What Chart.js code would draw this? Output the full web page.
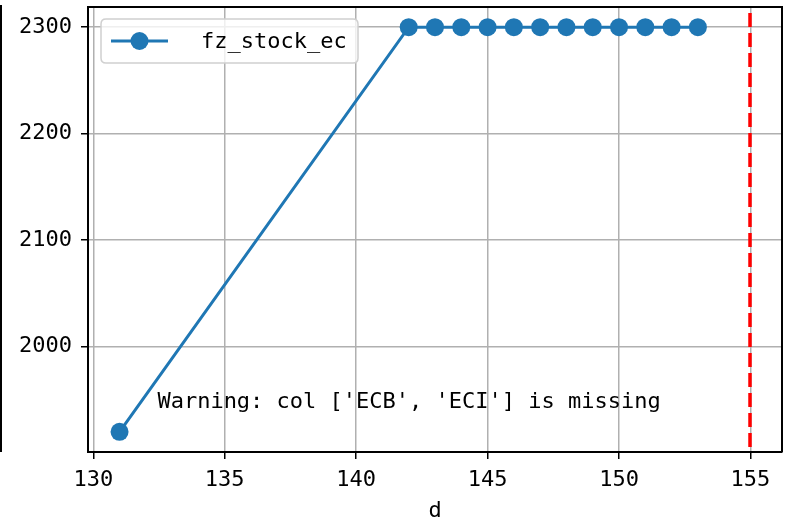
<!DOCTYPE html>
<html>
<head>
<meta charset="utf-8">
<script src="https://cdn.jsdelivr.net/npm/chart.js@4.4.1/dist/chart.umd.min.js"></script>
<style>
html,body{margin:0;padding:0;background:#fff;}
canvas{display:block;}
</style>
</head>
<body>
<canvas id="c" width="787" height="525"></canvas>
<script>
// ---- data ----
const dValues = [131, 142, 143, 144, 145, 146, 147, 148, 149, 150, 151, 152, 153];
const stockValues = [1920, 2300, 2300, 2300, 2300, 2300, 2300, 2300, 2300, 2300, 2300, 2300, 2300];
const seriesName = 'fz_stock_ec';
const xTicks = [130, 135, 140, 145, 150, 155];
const yTicks = [2000, 2100, 2200, 2300];
const vlineX = [155];
const xLabel = 'd';
const warningText = "Warning: col ['ECB', 'ECI'] is missing";

const FONT = '"DejaVu Sans Mono", "Liberation Mono", monospace';
const FS = 22;
const BLUE = '#1f77b4';

const points = dValues.map((d, i) => ({x: d, y: stockValues[i]}));

const overlay = {
  id: 'overlay',
  afterDatasetsDraw(chart) {
    const ctx = chart.ctx;
    const a = chart.chartArea;
    const xs = chart.scales.x;
    ctx.save();
    // red dashed vertical line
    ctx.strokeStyle = 'red';
    ctx.lineWidth = 3.5;
    ctx.setLineDash([14, 6]);
    ctx.lineDashOffset = -6;
    vlineX.forEach(v => {
      const px = Math.round(xs.getPixelForValue(v));
      ctx.beginPath();
      ctx.moveTo(px, a.top);
      ctx.lineTo(px, a.bottom);
      ctx.stroke();
    });
    ctx.setLineDash([]);
    // top & right spines
    ctx.strokeStyle = '#000';
    ctx.lineWidth = 2;
    ctx.beginPath();
    ctx.moveTo(a.left, a.top);
    ctx.lineTo(a.right, a.top);
    ctx.lineTo(a.right, a.bottom);
    ctx.stroke();
    // left stray line
    ctx.beginPath();
    ctx.moveTo(1, a.top - 2);
    ctx.lineTo(1, a.bottom);
    ctx.stroke();
    // warning text at axes fraction (0.1, 0.1)
    ctx.fillStyle = '#000';
    ctx.font = FS + 'px ' + FONT;
    ctx.textAlign = 'left';
    ctx.textBaseline = 'alphabetic';
    ctx.fillText(warningText, a.left + 0.1 * (a.right - a.left), a.bottom - 0.1 * (a.bottom - a.top));
    // legend
    const lx = a.left + 13, ly = a.top + 12, lw = 257, lh = 44, r = 5;
    ctx.beginPath();
    ctx.moveTo(lx + r, ly);
    ctx.lineTo(lx + lw - r, ly);
    ctx.quadraticCurveTo(lx + lw, ly, lx + lw, ly + r);
    ctx.lineTo(lx + lw, ly + lh - r);
    ctx.quadraticCurveTo(lx + lw, ly + lh, lx + lw - r, ly + lh);
    ctx.lineTo(lx + r, ly + lh);
    ctx.quadraticCurveTo(lx, ly + lh, lx, ly + lh - r);
    ctx.lineTo(lx, ly + r);
    ctx.quadraticCurveTo(lx, ly, lx + r, ly);
    ctx.closePath();
    ctx.fillStyle = 'rgba(255,255,255,0.8)';
    ctx.fill();
    ctx.strokeStyle = '#d0d0d0';
    ctx.lineWidth = 1.5;
    ctx.stroke();
    const cy = ly + lh / 2;
    ctx.strokeStyle = BLUE;
    ctx.lineWidth = 3;
    ctx.beginPath();
    ctx.moveTo(lx + 10, cy);
    ctx.lineTo(lx + 67, cy);
    ctx.stroke();
    ctx.fillStyle = BLUE;
    ctx.beginPath();
    ctx.arc(lx + 38.5, cy, 9, 0, Math.PI * 2);
    ctx.fill();
    ctx.fillStyle = '#000';
    ctx.textBaseline = 'middle';
    ctx.fillText(seriesName, lx + 100, cy + 1);
    ctx.restore();
  }
};

new Chart(document.getElementById('c'), {
  type: 'line',
  data: {
    datasets: [{
      label: seriesName,
      data: points,
      borderColor: BLUE,
      backgroundColor: BLUE,
      borderWidth: 3,
      pointRadius: 9,
      pointHoverRadius: 9,
      pointBorderWidth: 0,
      pointBackgroundColor: BLUE,
      tension: 0,
      clip: false
    }]
  },
  options: {
    responsive: false,
    animation: false,
    devicePixelRatio: 1,
    events: [],
    layout: {autoPadding: false, padding: {left: 0, top: 7, right: 5, bottom: 0}},
    plugins: {legend: {display: false}, tooltip: {enabled: false}},
    scales: {
      x: {
        type: 'linear',
        min: 129.8,
        max: 156.2,
        afterBuildTicks(s) { s.ticks = xTicks.map(v => ({value: v})); },
        afterFit(s) { s.height = 73; s.paddingLeft = 0; s.paddingRight = 0; },
        grid: {color: '#b0b0b0', lineWidth: 1.5, tickLength: 7, tickColor: '#000', tickWidth: 1.5},
        border: {color: '#000', width: 2},
        ticks: {color: '#000', font: {family: FONT, size: FS}, padding: 8, maxRotation: 0, autoSkip: false,
                callback: v => String(v)},
        title: {display: true, text: xLabel, color: '#000', font: {family: FONT, size: FS}, padding: {top: 0, bottom: 1}}
      },
      y: {
        type: 'linear',
        min: 1901,
        max: 2319,
        afterBuildTicks(s) { s.ticks = yTicks.map(v => ({value: v})); },
        afterFit(s) { s.width = 88; s.paddingTop = 0; s.paddingBottom = 0; },
        grid: {color: '#b0b0b0', lineWidth: 1.5, tickLength: 7, tickColor: '#000', tickWidth: 1.5},
        border: {color: '#000', width: 2},
        ticks: {color: '#000', font: {family: FONT, size: FS}, padding: 9, autoSkip: false,
                callback: v => String(v)}
      }
    }
  },
  plugins: [overlay]
});
</script>
</body>
</html>
